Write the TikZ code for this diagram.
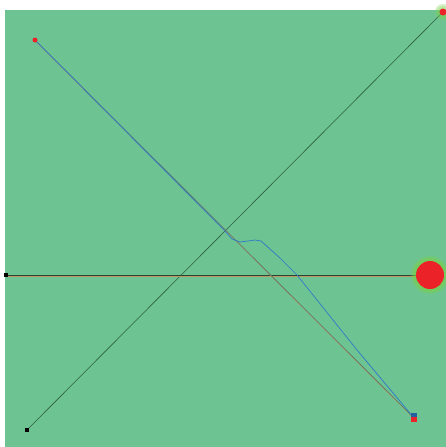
\documentclass[tikz,border=0pt]{standalone}
\definecolor{bg}{RGB}{110,195,147}
\definecolor{dotred}{RGB}{235,35,40}
\definecolor{darkline}{RGB}{40,70,50}
\definecolor{diagline}{RGB}{45,95,65}
\definecolor{tanline}{RGB}{190,150,100}
\definecolor{grayline}{RGB}{85,120,100}
\definecolor{pathblue}{RGB}{45,120,200}
\definecolor{glow}{RGB}{120,210,70}
\tikzset{
  thinline/.style={line width=0.6pt},
  smalldot/.style={circle,fill=dotred,inner sep=0pt,minimum size=5pt},
  blackdot/.style={rectangle,fill=black,inner sep=0pt,minimum size=4pt},
  halo/.style={fill=glow,opacity=0.3}
}
\begin{document}
\begin{tikzpicture}[x=1pt,y=-1pt]
\useasboundingbox (0,0) rectangle (446,447);
\fill[white] (0,0) rectangle (446,447);
\fill[bg] (5,10) rectangle (446,447);
% points
\coordinate (S) at (35,40);
\coordinate (E) at (414,418);
\coordinate (BL) at (27,430);
\coordinate (TR) at (443,12);
\coordinate (HL) at (6,275);
\coordinate (HR) at (430,275);
% diagonal
\draw[diagline,thinline] (BL) -- (TR);
% horizontal
\draw[tanline,thinline] ([yshift=-1]HL) -- ([yshift=-1]HR);
\draw[darkline,thinline] (HL) -- (HR);
% straight line S-E
\draw[tanline,line width=0.5pt] ([xshift=-0.6]S) -- ([xshift=-0.6]E);
\draw[grayline,line width=0.6pt] (S) -- (E);
% blue path
\draw[pathblue,line width=0.7pt,line join=round] (S) -- (225,231) -- (232,239) -- (240,242) -- (248,241) -- (255,240) -- (261,241) -- (280,258) -- (297,275) -- (357,350) -- (E);
% big red circle with glow
\fill[halo] (HR) circle (19);
\fill[halo] (HR) circle (17.5);
\fill[halo] (HR) circle (16);
\node[circle,fill=dotred,inner sep=0pt,minimum size=28pt] (big) at (HR) {};
% top right
\fill[halo] (TR) circle (8);
\fill[halo] (TR) circle (6);
\node[smalldot,minimum size=7pt] (tr) at (TR) {};
% start dot
\node[smalldot] (s) at (S) {};
% end marks
\node[rectangle,fill=pathblue!80!black,inner sep=0pt,minimum width=6pt,minimum height=4pt] (eb) at (414,415) {};
\node[rectangle,fill=dotred,inner sep=0pt,minimum width=6pt,minimum height=5pt] (er) at (414,419.5) {};
% black dots
\node[blackdot] (hl) at (HL) {};
\node[blackdot] (bl) at (BL) {};
\end{tikzpicture}
\end{document}
